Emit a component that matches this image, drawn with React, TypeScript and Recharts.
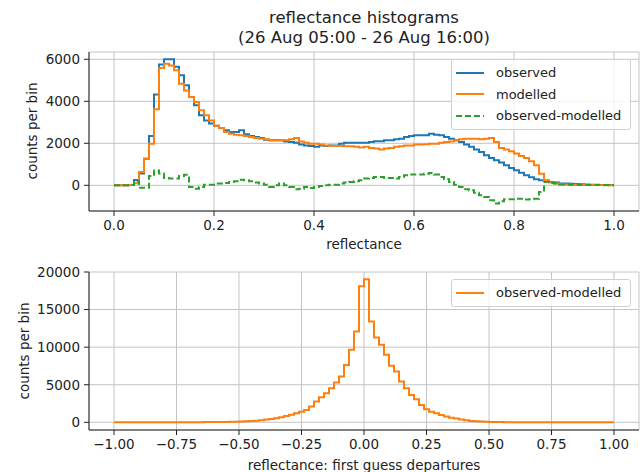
import React from 'react';
import { LineChart, Line, XAxis, YAxis, CartesianGrid } from 'recharts';

// ---------- top panel: reflectance histograms (100 bins of 0.01 from 0 to 1) ----------
const reflBinStart = 0;
const reflBinWidth = 0.01;
const observedCounts = [
  0, 0, 0, 20, 250, 560, 1270, 2350, 4320, 5750,
  6000, 6000, 5640, 5240, 4760, 4200, 3810, 3330, 3090, 2940,
  2830, 2730, 2620, 2540, 2540, 2620, 2430, 2350, 2300, 2250,
  2170, 2140, 2140, 2140, 2090, 2060, 2030, 1940, 1900, 1870,
  1830, 1900, 1870, 1900, 1900, 1980, 2030, 2030, 2030, 2030,
  2030, 2060, 2100, 2100, 2140, 2140, 2190, 2220, 2300, 2350,
  2380, 2380, 2380, 2460, 2410, 2380, 2300, 2220, 2140, 2060,
  1940, 1830, 1710, 1590, 1430, 1300, 1190, 1080, 950, 825,
  715, 600, 475, 380, 285, 240, 200, 160, 130, 90,
  80, 70, 60, 50, 40, 30, 30, 20, 20, 10,
];
const modelledCounts = [
  0, 0, 0, 10, 100, 635, 1270, 1980, 3620, 5590,
  5790, 5710, 5480, 4840, 4520, 4200, 3970, 3570, 3330, 3090,
  2830, 2730, 2540, 2460, 2410, 2380, 2350, 2300, 2250, 2220,
  2190, 2140, 2140, 2140, 2140, 2190, 2250, 2090, 2030, 1980,
  1980, 1940, 1900, 1870, 1870, 1870, 1860, 1860, 1830, 1800,
  1830, 1780, 1750, 1710, 1750, 1780, 1830, 1860, 1900, 1900,
  1940, 1940, 1950, 1980, 1980, 2030, 2060, 2090, 2140, 2190,
  2220, 2220, 2220, 2190, 2220, 2250, 2060, 1780, 1710, 1620,
  1510, 1400, 1300, 1140, 950, 555, 240, 130, 80, 50,
  40, 30, 30, 20, 20, 10, 10, 10, 5, 5,
];
const diffCounts = [
  0, 0, 0, 10, 200, -120, -120, 440, 710, 560,
  350, 320, 320, 440, 500, -80, -160, -80, 30, 30,
  80, 80, 110, 160, 190, 270, 240, 190, 130, 80,
  30, -80, 0, 80, 0, -80, -190, -160, -80, -130,
  -80, -30, 0, 30, 30, 80, 130, 160, 190, 240,
  320, 350, 400, 400, 350, 350, 320, 400, 475, 510,
  510, 510, 555, 590, 510, 400, 290, 160, 30, -80,
  -190, -240, -350, -475, -555, -715, -870, -760, -665, -665,
  -635, -635, -680, -665, -635, -320, 160, 110, 80, 40,
  40, 30, 30, 20, 20, 20, 20, 10, 10, 5,
];
const topXTicks = [0, 0.2, 0.4, 0.6, 0.8, 1.0];
const topYTicks = [0, 2000, 4000, 6000];

// ---------- bottom panel: first guess departures (100 bins of 0.02 from -1 to 1) ----------
const depBinStart = -1;
const depBinWidth = 0.02;
const departureCounts = [
  2, 2, 2, 3, 3, 3, 4, 4, 5, 5,
  6, 7, 8, 10, 12, 14, 17, 20, 24, 28,
  33, 40, 50, 60, 75, 90, 130, 180, 220, 270,
  360, 440, 530, 670, 840, 1020, 1200, 1420, 1640, 2090,
  2760, 3330, 3870, 4530, 5290, 6090, 7640, 9640, 12090, 18090,
  19050, 13420, 11290, 10310, 8980, 7510, 6760, 5420, 4530, 3640,
  3070, 2310, 1730, 1420, 1200, 980, 760, 620, 490, 360,
  270, 180, 130, 90, 60, 45, 35, 28, 22, 18,
  14, 12, 10, 8, 7, 6, 5, 5, 4, 4,
  3, 3, 3, 2, 2, 2, 2, 2, 2, 2,
];
const botXTicks = [-1, -0.75, -0.5, -0.25, 0, 0.25, 0.5, 0.75, 1];
const botYTicks = [0, 5000, 10000, 15000, 20000];

// step data: one row per bin edge, last edge repeats last bin value
const topData = observedCounts.map((v, i) => ({
  x: +(reflBinStart + i * reflBinWidth).toFixed(3),
  observed: v,
  modelled: modelledCounts[i],
  diff: diffCounts[i],
}));
topData.push({
  x: +(reflBinStart + observedCounts.length * reflBinWidth).toFixed(3),
  observed: observedCounts[observedCounts.length - 1],
  modelled: modelledCounts[modelledCounts.length - 1],
  diff: diffCounts[diffCounts.length - 1],
});
const botData = departureCounts.map((v, i) => ({
  x: +(depBinStart + i * depBinWidth).toFixed(3),
  dep: v,
}));
botData.push({
  x: +(depBinStart + departureCounts.length * depBinWidth).toFixed(3),
  dep: departureCounts[departureCounts.length - 1],
});

const BLUE = '#1f77b4';
const ORANGE = '#ff7f0e';
const GREEN = '#2ca02c';
const FONT = '"DejaVu Sans", sans-serif';
const TICK = { fontSize: 13.5, fill: '#222', fontFamily: FONT };
const SPINE = '#222';
const GRID = '#c4c4c4';

const fmtMinus = (v: number, d: number) =>
  v < 0 ? '\u2212' + Math.abs(v).toFixed(d) : v.toFixed(d);

const LegendBox = ({ items, left, top, width }: any) => (
  <div
    style={{
      position: 'absolute', left, top, width,
      background: 'rgba(255,255,255,0.8)', border: '1px solid #d0d0d0',
      borderRadius: 3, padding: '2px 0', boxSizing: 'border-box',
      fontFamily: FONT, fontSize: 13, color: '#222',
    }}
  >
    {items.map((it: any) => (
      <div key={it.label} style={{ display: 'flex', alignItems: 'center', height: 21.5 }}>
        <svg width={40} height={10} style={{ marginLeft: 4 }}>
          <line x1={0} x2={28} y1={5} y2={5} stroke={it.color} strokeWidth={2}
            strokeDasharray={it.dashed ? '6 3' : undefined} />
        </svg>
        <span style={{ whiteSpace: 'nowrap' }}>{it.label}</span>
      </div>
    ))}
  </div>
);

const abs = (s: any): any => ({ position: 'absolute', ...s });

export default function App() {
  return (
    <div style={abs({ left: 0, top: 0, width: 643, height: 472, background: '#fff', fontFamily: FONT, overflow: 'hidden' })}>
      <div style={abs({ left: 89, top: 8, width: 550, textAlign: 'center', fontSize: 16.5, lineHeight: '20px', color: '#222' })}>
        reflectance histograms<br />(26 Aug 05:00 - 26 Aug 16:00)
      </div>

      <div style={abs({ left: 0, top: 0 })}>
        <LineChart width={643} height={250} data={topData} margin={{ top: 52, right: 4, left: 29, bottom: 9 }}>
          <CartesianGrid stroke={GRID} strokeWidth={1} />
          <XAxis dataKey="x" type="number" domain={[-0.05, 1.05]} ticks={topXTicks} allowDataOverflow
            tickFormatter={(v: number) => v.toFixed(1)} tick={TICK} tickSize={5} tickMargin={4}
            stroke={SPINE} height={30} interval={0} />
          <XAxis xAxisId="top" orientation="top" type="number" domain={[-0.05, 1.05]} height={0}
            tick={false} tickLine={false} stroke={SPINE} />
          <YAxis type="number" domain={[-1224, 6348]} ticks={topYTicks} allowDataOverflow
            tick={TICK} tickSize={5} tickMargin={4} stroke={SPINE} width={60} interval={0} />
          <YAxis yAxisId="right" orientation="right" type="number" domain={[-1224, 6348]} width={0}
            tick={false} tickLine={false} stroke={SPINE} />
          <Line dataKey="observed" type="stepAfter" stroke={BLUE} strokeWidth={2} dot={false} activeDot={false} isAnimationActive={false} />
          <Line dataKey="modelled" type="stepAfter" stroke={ORANGE} strokeWidth={2} dot={false} activeDot={false} isAnimationActive={false} />
          <Line dataKey="diff" type="stepAfter" stroke={GREEN} strokeWidth={2} strokeDasharray="6 3" dot={false} activeDot={false} isAnimationActive={false} />
        </LineChart>
      </div>

      <div style={abs({ left: 0, top: 250 })}>
        <LineChart width={643} height={222} data={botData} margin={{ top: 22, right: 4, left: 29, bottom: 12 }}>
          <CartesianGrid stroke={GRID} strokeWidth={1} />
          <XAxis dataKey="x" type="number" domain={[-1.1, 1.1]} ticks={botXTicks} allowDataOverflow
            tickFormatter={(v: number) => fmtMinus(v, 2)} tick={TICK} tickSize={5} tickMargin={4}
            stroke={SPINE} height={30} interval={0} />
          <XAxis xAxisId="top" orientation="top" type="number" domain={[-1.1, 1.1]} height={0}
            tick={false} tickLine={false} stroke={SPINE} />
          <YAxis type="number" domain={[-1025, 20000]} ticks={botYTicks} allowDataOverflow
            tick={TICK} tickSize={5} tickMargin={4} stroke={SPINE} width={60} interval={0} />
          <YAxis yAxisId="right" orientation="right" type="number" domain={[-1025, 20000]} width={0}
            tick={false} tickLine={false} stroke={SPINE} />
          <Line dataKey="dep" type="stepAfter" stroke={ORANGE} strokeWidth={2} dot={false} activeDot={false} isAnimationActive={false} />
        </LineChart>
      </div>

      <div style={abs({ left: 33, top: 131, transform: 'translate(-50%, -50%) rotate(-90deg)', fontSize: 13.5, whiteSpace: 'nowrap', lineHeight: 1, color: '#222' })}>
        counts per bin
      </div>
      <div style={abs({ left: 25, top: 351, transform: 'translate(-50%, -50%) rotate(-90deg)', fontSize: 13.5, whiteSpace: 'nowrap', lineHeight: 1, color: '#222' })}>
        counts per bin
      </div>
      <div style={abs({ left: 89, top: 236, width: 550, textAlign: 'center', fontSize: 13.5, lineHeight: '16px', color: '#222' })}>
        reflectance
      </div>
      <div style={abs({ left: 89, top: 457, width: 550, textAlign: 'center', fontSize: 13.5, lineHeight: '16px', color: '#222' })}>
        reflectance: first guess departures
      </div>

      <LegendBox left={451} top={59} width={180} items={[
        { label: 'observed', color: BLUE },
        { label: 'modelled', color: ORANGE },
        { label: 'observed-modelled', color: GREEN, dashed: true },
      ]} />
      <LegendBox left={451} top={279} width={180} items={[
        { label: 'observed-modelled', color: ORANGE },
      ]} />
    </div>
  );
}
